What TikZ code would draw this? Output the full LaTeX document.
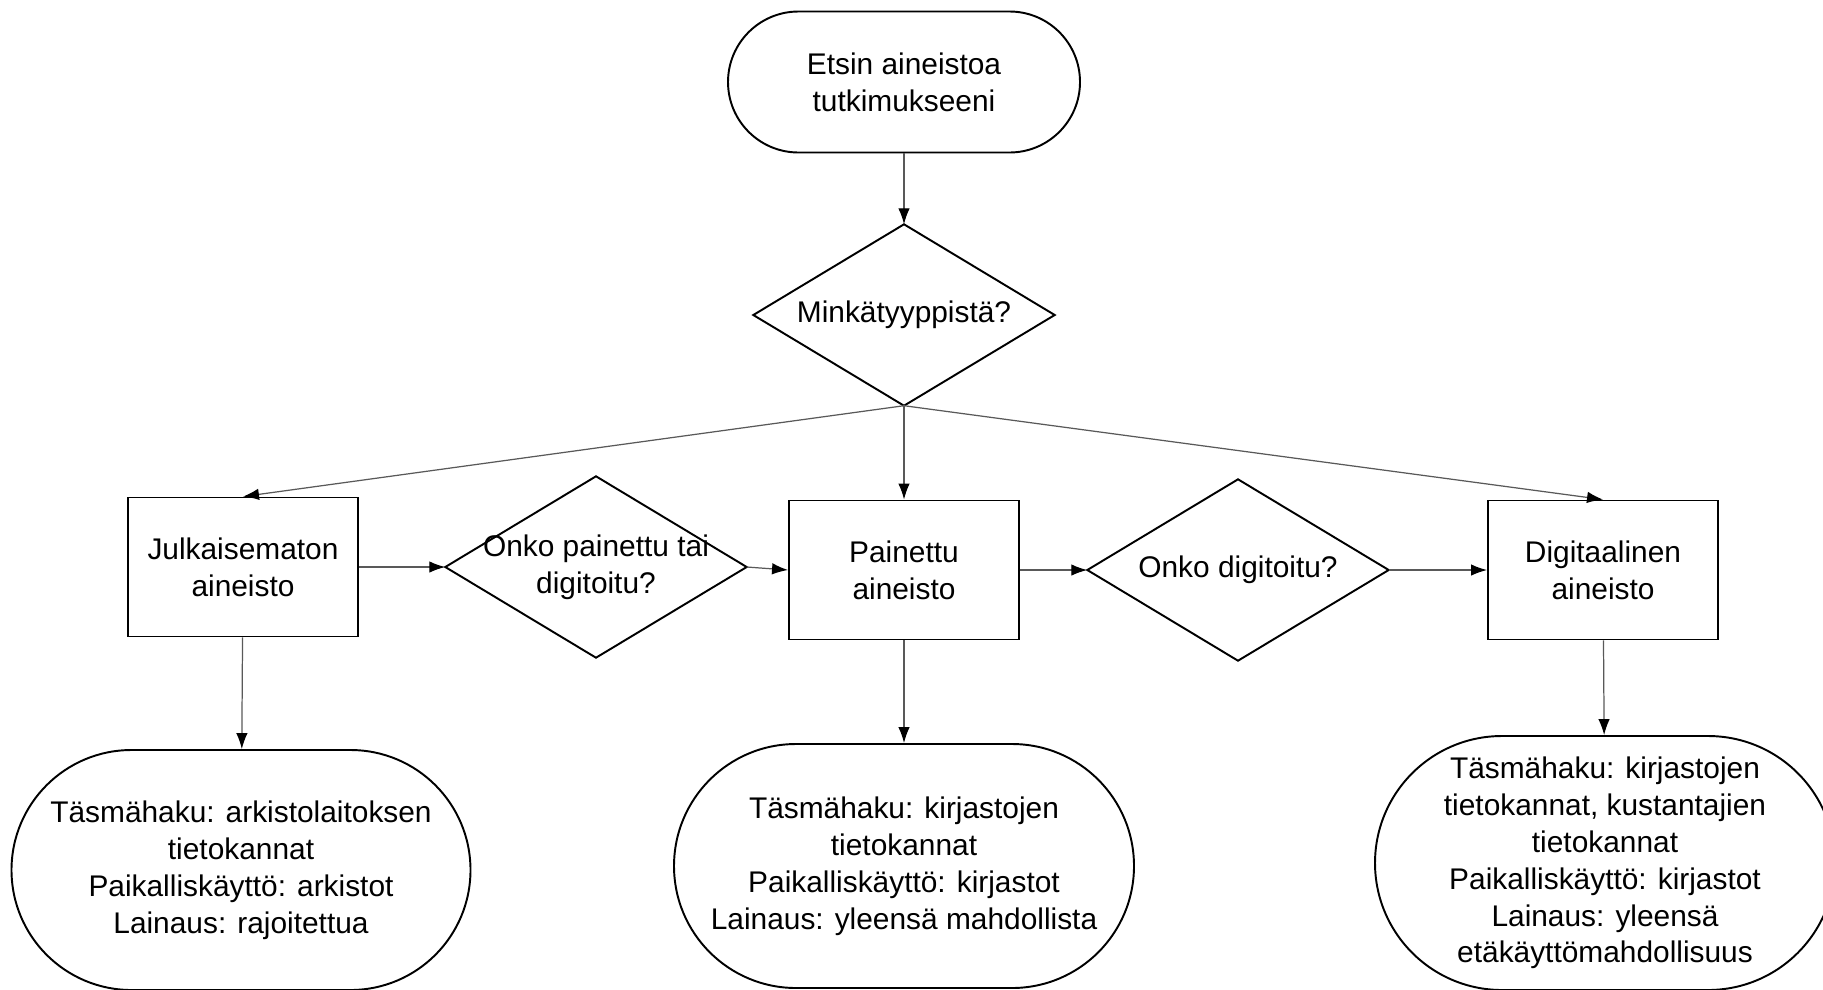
\documentclass[tikz,border=0pt]{standalone}
\usepackage{fontspec}
\setmainfont{Liberation Sans}
\usetikzlibrary{arrows.meta}
\begin{document}
\begin{tikzpicture}[x=0.1mm,y=-0.1mm,
  every node/.style={font=\fontsize{8.5}{10.5}\selectfont, align=center},
  endbox/.style={draw, line width=0.55pt, inner sep=0pt},
  stepbox/.style={draw, line width=0.55pt, inner sep=0pt, minimum width=23mm, minimum height=13.9mm},
  choice/.style={inner sep=0pt, minimum width=30mm, minimum height=18mm},
  conn/.style={-{Latex[length=1.6mm,width=1.15mm,color=black]}, line width=0.35pt, black!65}]
  \useasboundingbox (0,0) rectangle (1823,989);
  \clip (0,0) rectangle (1823,989);
  \node[endbox, minimum width=35.2mm, minimum height=14.1mm, rounded corners=7.05mm] (start) at (904,82) {Etsin aineistoa\\tutkimukseeni};
  \node[choice] (tyyppi) at (904,315) {Minkätyyppistä?};
  \draw[line width=0.55pt] (tyyppi.north) -- (tyyppi.east) -- (tyyppi.south) -- (tyyppi.west) -- cycle;
  \node[stepbox] (julk) at (243,567) {Julkaisematon\\aineisto};
  \node[choice] (painettutai) at (596,567) {Onko painettu tai\\digitoitu?};
  \draw[line width=0.55pt] (painettutai.north) -- (painettutai.east) -- (painettutai.south) -- (painettutai.west) -- cycle;
  \node[stepbox] (painettu) at (904,570) {Painettu\\aineisto};
  \node[choice] (digitoitu) at (1238,570) {Onko digitoitu?};
  \draw[line width=0.55pt] (digitoitu.north) -- (digitoitu.east) -- (digitoitu.south) -- (digitoitu.west) -- cycle;
  \node[stepbox] (digi) at (1603,570) {Digitaalinen\\aineisto};
  \node[endbox, minimum width=45.9mm, minimum height=24mm, rounded corners=12mm] (arkisto) at (241,870) {Täsmähaku: arkistolaitoksen\\tietokannat\\Paikalliskäyttö: arkistot\\Lainaus: rajoitettua};
  \node[endbox, minimum width=46mm, minimum height=24.4mm, rounded corners=12.2mm] (kirjasto) at (904,866) {Täsmähaku: kirjastojen\\tietokannat\\Paikalliskäyttö: kirjastot\\Lainaus: yleensä mahdollista};
  \node[endbox, minimum width=46mm, minimum height=25.4mm, rounded corners=12.7mm] (etakaytto) at (1605,863) {Täsmähaku: kirjastojen\\tietokannat, kustantajien\\tietokannat\\Paikalliskäyttö: kirjastot\\Lainaus: yleensä\\etäkäyttömahdollisuus};
  % connectors
  \draw[conn] (start) -- (tyyppi.north);
  \draw[conn] (tyyppi.south) -- (julk.north);
  \draw[conn] (tyyppi.south) -- (painettu.north);
  \draw[conn] (tyyppi.south) -- (digi.north);
  \draw[conn] (julk) -- (painettutai.west);
  \draw[conn] (painettutai.east) -- (painettu.west);
  \draw[conn] (painettu) -- (digitoitu.west);
  \draw[conn] (digitoitu.east) -- (digi.west);
  \draw[conn] (julk) -- (arkisto);
  \draw[conn] (painettu) -- (kirjasto);
  \draw[conn] (digi) -- (etakaytto);
\end{tikzpicture}
\end{document}
